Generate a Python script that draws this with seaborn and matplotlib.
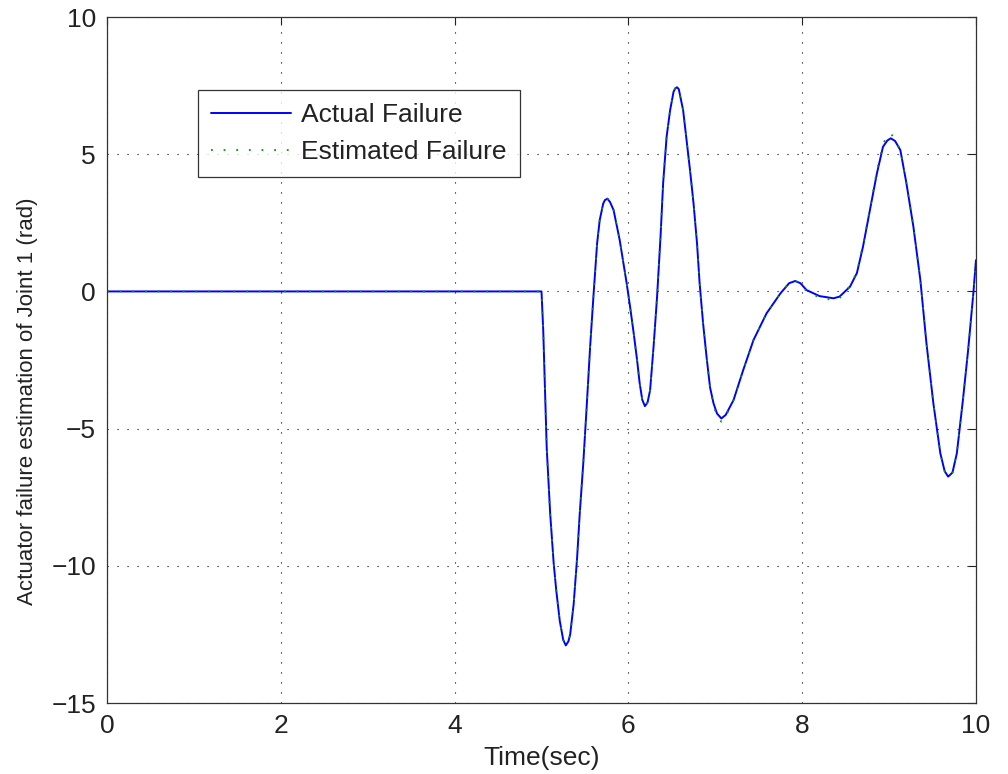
import numpy as np
import pandas as pd
import matplotlib
matplotlib.use("Agg")
import matplotlib.pyplot as plt
import seaborn as sns

# ---- data ----
time_s = [0.0, 5.00, 5.02, 5.06, 5.10, 5.14, 5.17, 5.21, 5.25, 5.28, 5.31, 5.33, 5.37, 5.41, 5.44,
          5.48, 5.52, 5.56, 5.60, 5.64, 5.67, 5.71, 5.73, 5.76, 5.79, 5.83, 5.90, 5.98, 6.02,
          6.06, 6.10, 6.13, 6.16, 6.19, 6.22, 6.25, 6.29, 6.33, 6.37, 6.40, 6.44, 6.48, 6.52,
          6.54, 6.56, 6.58, 6.59, 6.63, 6.67, 6.71, 6.75, 6.79, 6.82, 6.86, 6.90, 6.94, 6.98,
          7.02, 7.07, 7.12, 7.21, 7.32, 7.44, 7.59, 7.75, 7.85, 7.92, 7.98, 8.05, 8.20, 8.36,
          8.43, 8.55, 8.63, 8.70, 8.78, 8.86, 8.93, 8.98, 9.02, 9.07, 9.13, 9.20, 9.28, 9.36,
          9.43, 9.51, 9.59, 9.64, 9.68, 9.73, 9.78, 9.85, 9.91, 9.97, 10.0]
actual = [0.0, 0.0, -1.42, -5.7, -8.1, -9.9, -10.9, -12.0, -12.7, -12.9, -12.75, -12.5, -11.4, -9.7, -8.1,
          -6.3, -4.2, -2.0, -0.07, 1.75, 2.6, 3.2, 3.33, 3.38, 3.25, 2.96, 1.87, 0.3, -0.57,
          -1.5, -2.5, -3.35, -3.95, -4.18, -4.05, -3.6, -2.0, -0.2, 2.0, 3.95, 5.64, 6.6, 7.28,
          7.4, 7.44, 7.37, 7.22, 6.6, 5.5, 4.4, 3.2, 1.75, 0.29, -1.17, -2.4, -3.5, -4.08,
          -4.45, -4.63, -4.5, -3.96, -2.88, -1.77, -0.8, -0.07, 0.3, 0.38, 0.3, 0.05, -0.17, -0.25,
          -0.19, 0.17, 0.67, 1.63, 2.97, 4.3, 5.27, 5.5, 5.58, 5.48, 5.15, 3.94, 2.36, 0.42,
          -1.88, -4.08, -5.9, -6.55, -6.75, -6.6, -5.9, -3.96, -2.14, -0.07, 1.14]
estimated = [0.0, 0.0, -1.42, -5.7, -8.1, -9.9, -10.9, -12.0, -12.7, -12.85, -12.75, -12.5, -11.4, -9.7, -8.1,
             -6.3, -4.2, -2.0, -0.07, 1.75, 2.6, 3.2, 3.33, 3.38, 3.25, 2.96, 1.87, 0.3, -0.57,
             -1.5, -2.5, -3.35, -3.95, -4.18, -4.05, -3.6, -2.0, -0.2, 2.0, 3.95, 5.64, 6.6, 7.28,
             7.4, 7.44, 7.37, 7.22, 6.6, 5.5, 4.4, 3.2, 1.75, 0.29, -1.17, -2.4, -3.5, -4.2,
             -4.5, -4.75, -4.55, -3.96, -2.88, -1.77, -0.8, -0.07, 0.3, 0.38, 0.3, 0.0, -0.22, -0.32,
             -0.25, 0.2, 0.7, 1.7, 3.0, 4.4, 5.35, 5.7, 5.75, 5.55, 5.15, 3.94, 2.36, 0.42,
             -1.88, -4.08, -5.9, -6.55, -6.75, -6.6, -5.9, -3.96, -2.14, -0.07, 1.14]
labels = ["Actual Failure", "Estimated Failure"]
xticks = [0, 2, 4, 6, 8, 10]
yticks = [-15, -10, -5, 0, 5, 10]

df = pd.DataFrame({"t": time_s, "actual": actual, "est": estimated})

sns.set_theme(style="white")
plt.rcParams["font.family"] = ["Liberation Sans", "DejaVu Sans"]

fig = plt.figure(figsize=(10.08, 7.74), dpi=100)
ax = fig.add_axes([0.1062, 0.0917, 0.862, 0.8863])

sns.lineplot(data=df, x="t", y="actual", ax=ax, color=(0, 0, 1), linewidth=1.4,
             label=labels[0], sort=False)
sns.lineplot(data=df, x="t", y="est", ax=ax, color=(0, 0.6, 0), linewidth=1.3,
             linestyle=(0, (1, 6)), label=labels[1], sort=False)

ax.set_xlim(0, 10)
ax.set_ylim(-15, 10)
ax.set_xticks(xticks)
ax.set_yticks(yticks)
ax.set_yticklabels([str(v).replace("-", "\u2212") for v in yticks])
ax.grid(True, color="black", linestyle=(0, (1, 8)), linewidth=0.8)
ax.tick_params(direction="in", top=True, right=True, length=6, width=0.8,
               labelsize=19, colors="#222222", pad=8)
for sp in ax.spines.values():
    sp.set_color("#333333")
    sp.set_linewidth(0.9)

ax.set_xlabel("Time(sec)", fontsize=19, labelpad=6, color="#222222")
ax.set_ylabel("Actuator failure estimation of Joint 1 (rad)", fontsize=16,
              color="#222222")
ax.yaxis.set_label_coords(-0.079, 0.44)

leg = ax.legend(loc="upper left", bbox_to_anchor=(0.105, 0.894), fontsize=19,
                frameon=True, fancybox=False, shadow=False, borderpad=0.5,
                handlelength=3.0, labelspacing=0.5, handletextpad=0.4, borderaxespad=0)
leg.get_frame().set_edgecolor("black")
leg.get_frame().set_linewidth(0.9)
for t in leg.get_texts():
    t.set_color("#222222")

fig.savefig("out.png", dpi=100, facecolor="white")
